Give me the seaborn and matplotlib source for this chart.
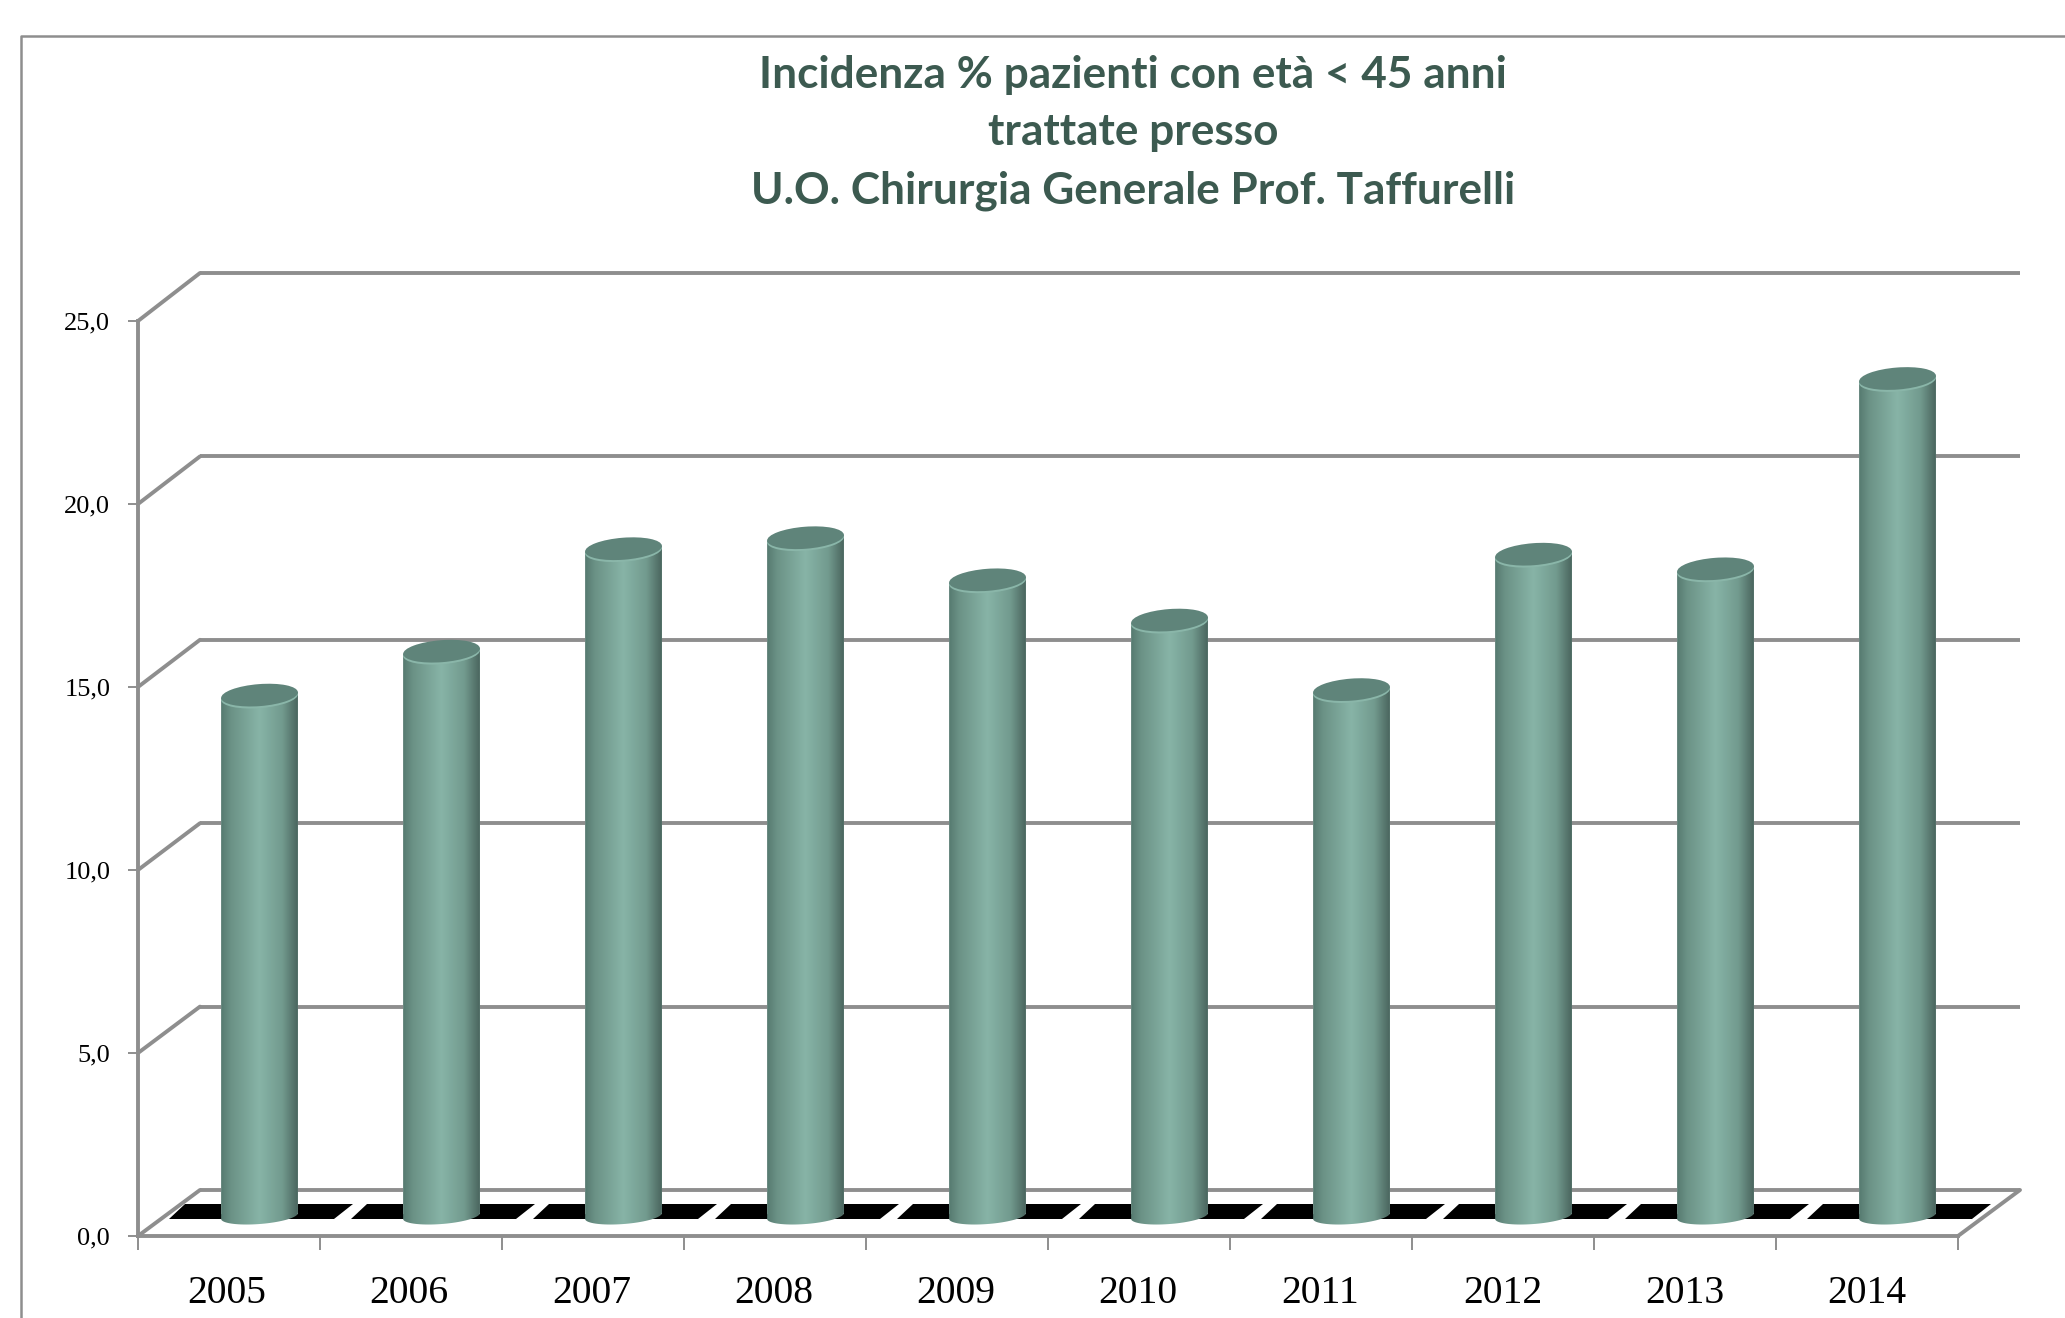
import numpy as np
import pandas as pd
import matplotlib
matplotlib.use('Agg')
import matplotlib.pyplot as plt
import seaborn as sns
from matplotlib.colors import LinearSegmentedColormap
from matplotlib.lines import Line2D
from matplotlib.patches import Ellipse, Polygon
from matplotlib.transforms import IdentityTransform

years = ['2005', '2006', '2007', '2008', '2009', '2010', '2011', '2012', '2013', '2014']
incidenza = [14.15, 15.35, 18.15, 18.45, 17.3, 16.2, 14.3, 18.0, 17.6, 22.8]
y_ticks = [0, 5, 10, 15, 20, 25]
y_labels = ['0,0', '5,0', '10,0', '15,0', '20,0', '25,0']
title = 'Incidenza % pazienti con età < 45 anni\ntrattate presso\nU.O. Chirurgia Generale Prof. Taffurelli'

W, H = 2065, 1318
GREY = '#8e8e8e'

sns.set_theme(style='white')
plt.rcParams['font.family'] = ['Liberation Serif', 'DejaVu Serif']

fig = plt.figure(figsize=(W / 100, H / 100), dpi=100, facecolor='white')


def axes_at(left, right, top, bottom, z):
    # axes placed by pixel box of the reference (y counted from the top)
    a = fig.add_axes([left / W, 1 - bottom / H, (right - left) / W, (bottom - top) / H], zorder=z)
    a.patch.set_alpha(0)
    return a


# three planes of the fake 3d box: front axis, back wall, and the plane the bars stand on
ax_back = axes_at(200, 2020, 273, 1190, 1)
ax_front = axes_at(138, 1958, 321, 1236, 2)
ax_mid = axes_at(168.5, 1988.5, 298, 1286.2, 3)

# back wall
ax_back.set_xlim(-0.5, 9.5)
ax_back.set_ylim(0, 25)
ax_back.axis('off')
ax_back.hlines(y_ticks, -0.5, 9.5, color=GREY, lw=2.8, clip_on=False)

# front axis with real ticks
ax_front.set_xlim(-0.5, 9.5)
ax_front.set_ylim(0, 25)
sns.despine(ax=ax_front)
for side in ['left', 'bottom']:
    ax_front.spines[side].set_color(GREY)
    ax_front.spines[side].set_linewidth(2.8)
ax_front.set_yticks(y_ticks)
ax_front.set_yticklabels(y_labels, fontsize=19)
ax_front.set_xticks(np.arange(-0.5, 10, 1))
ax_front.set_xticklabels([])
ax_front.set_xticks(np.linspace(-0.012, 9.0, len(years)), labels=years, minor=True, fontsize=28.5)
ax_front.tick_params(axis='y', which='major', left=True, length=7, width=1.4, color=GREY, pad=13, labelcolor='black')
ax_front.tick_params(axis='x', which='major', bottom=True, length=10, width=1.4, color=GREY)
ax_front.tick_params(axis='x', which='minor', bottom=False, length=0, pad=28, labelcolor='black')

# diagonals joining front axis and back wall
to_px = lambda a, x, y: a.transData.transform((x, y))
for v in y_ticks:
    p0 = to_px(ax_front, -0.5, v)
    p1 = to_px(ax_back, -0.5, v)
    fig.add_artist(Line2D([p0[0], p1[0]], [p0[1], p1[1]], color=GREY, lw=2.8, transform=IdentityTransform()))
p0 = to_px(ax_front, 9.5, 0)
p1 = to_px(ax_back, 9.5, 0)
fig.add_artist(Line2D([p0[0], p1[0]], [p0[1], p1[1]], color=GREY, lw=2.8, transform=IdentityTransform()))

# black shadows on the floor
floor_low, floor_high = H - 1219, H - 1204
for i in range(len(years)):
    cx = to_px(ax_front, i, 0)[0]
    ax_back.add_patch(Polygon([(cx - 60, floor_low), (cx + 105, floor_low), (cx + 124, floor_high), (cx - 44, floor_high)],
                              closed=True, fc='black', ec='none', transform=IdentityTransform(), clip_on=False))

# bars
df = pd.DataFrame({'anno': years, 'incidenza': incidenza})
sns.barplot(data=df, x='anno', y='incidenza', color='#7ba89b', width=0.423, saturation=1, ax=ax_mid)
ax_mid.set_xlim(-0.5, 9.5)
ax_mid.set_ylim(-2, 25)
ax_mid.axis('off')

shade = LinearSegmentedColormap.from_list('cyl', [(0, '#567a70'), (0.13, '#6b9286'), (0.5, '#87b4a7'),
                                                  (0.8, '#729a8e'), (1, '#4a655e')])
gradient = np.linspace(0, 1, 256).reshape(1, -1)
tilt = np.radians(4.5)
cap_h = 11
foot_h = 8


def ellipse_pts(cx, cy, rx, ry, t):
    ex, ey = rx * np.cos(t), ry * np.sin(t)
    return np.c_[cx + ex * np.cos(tilt) - ey * np.sin(tilt), cy + ex * np.sin(tilt) + ey * np.cos(tilt)]


for bar in list(ax_mid.patches):
    x0, w, v = bar.get_x(), bar.get_width(), bar.get_height()
    left, base = to_px(ax_mid, x0, 0)
    right, top = to_px(ax_mid, x0 + w, v)
    cx, rx = (left + right) / 2, (right - left) / 2
    # cylinder outline: tilted chord on top, lower half of an ellipse at the bottom
    top_arc = ellipse_pts(cx, top, rx, cap_h, np.array([np.pi, 0.0]))
    low_arc = ellipse_pts(cx, base - 3, rx, foot_h, np.linspace(0, -np.pi, 40))
    body = Polygon(np.vstack([top_arc, low_arc]), closed=True, transform=IdentityTransform())
    bar.set_clip_path(body)
    im = ax_mid.imshow(gradient, cmap=shade, aspect='auto', extent=(x0, x0 + w, -2, v + 1), zorder=3)
    im.set_clip_path(body)
    # cap
    angle = np.degrees(tilt)
    ax_mid.add_patch(Ellipse((cx, top - 2), 2 * rx, 2 * cap_h, angle=angle, fc='#8ab6a9', ec='none',
                             transform=IdentityTransform(), clip_on=False, zorder=4))
    ax_mid.add_patch(Ellipse((cx, top), 2 * rx, 2 * cap_h, angle=angle, fc='#5f847a', ec='none',
                             transform=IdentityTransform(), clip_on=False, zorder=5))
ax_mid.set_xlim(-0.5, 9.5)
ax_mid.set_ylim(-2, 25)

# outer frame (open on the right and bottom)
fig.add_artist(Line2D([21 / W, 21 / W, 1], [0, 1 - 36 / H, 1 - 36 / H], color=GREY, lw=1.8))

fig.text(1133 / W, 1 - 132.6 / H, title, ha='center', va='center', color='#3c5a50', fontsize=31.8,
         fontweight='bold', family=['Lato', 'DejaVu Sans'], linespacing=1.54)

fig.savefig('out.png', dpi=100)
